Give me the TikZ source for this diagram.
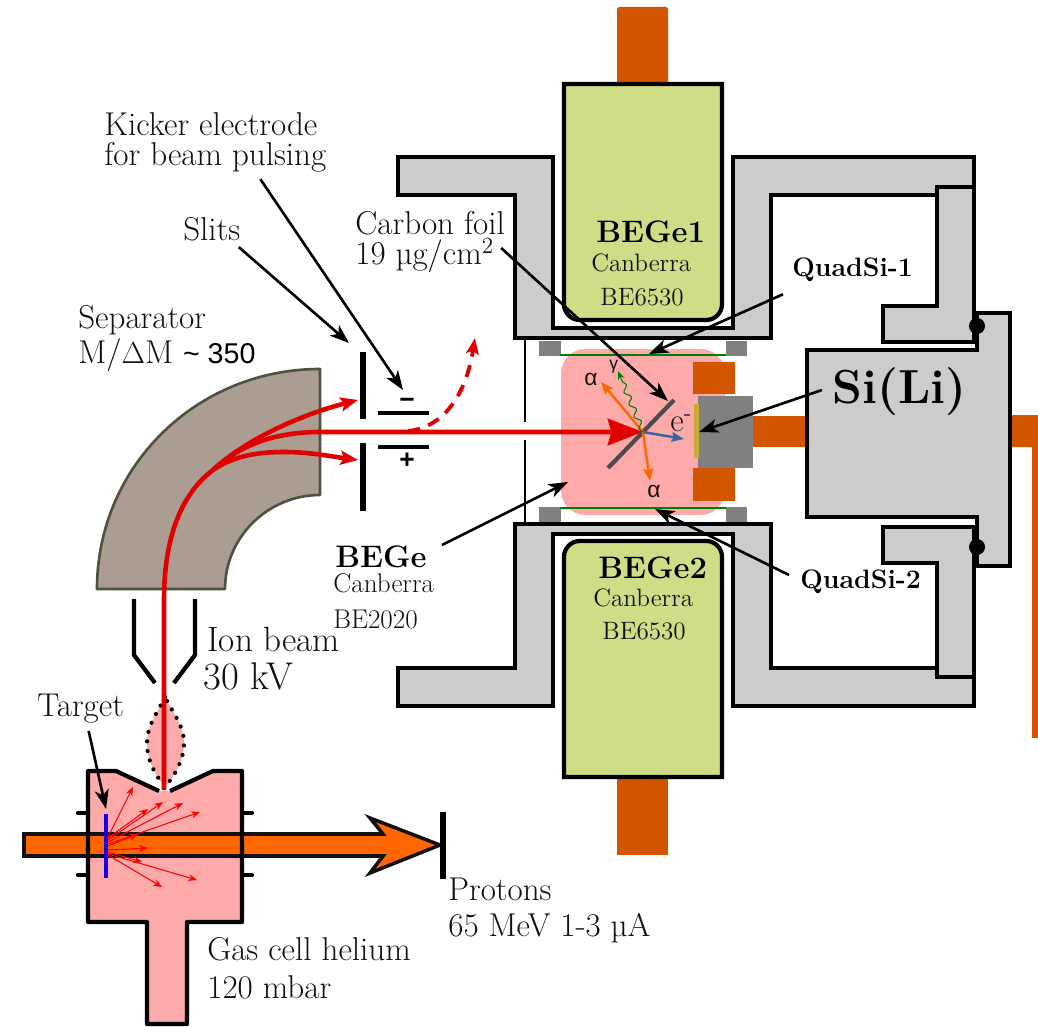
\documentclass[tikz,border=0pt]{standalone}
\usepackage{fontspec}
\usepackage{amsmath,amssymb}
\newfontfamily\numsans{Liberation Sans}
\usepackage{tikz}
\usetikzlibrary{arrows.meta, calc, decorations.pathmorphing}

\definecolor{copper}{HTML}{D45500}
\definecolor{beamorange}{HTML}{FF6600}
\definecolor{shieldgray}{HTML}{CCCCCC}
\definecolor{crystal}{HTML}{CDDE87}
\definecolor{gaspink}{HTML}{FFAAAA}
\definecolor{magnet}{HTML}{AC9D93}
\definecolor{magnetedge}{HTML}{4F5240}
\definecolor{beamred}{HTML}{E00000}
\definecolor{inktext}{HTML}{111111}
\definecolor{foilgold}{HTML}{C8AB37}
\definecolor{decayblue}{HTML}{3465A4}

\begin{document}
\begin{tikzpicture}[
  x=0.02cm, y=-0.02cm,
  >=Stealth,
  wall/.style={draw=black, line width=2.4pt, miter limit=4},
  shield/.style={wall, fill=shieldgray},
  crystalbox/.style={wall, fill=crystal},
  plate/.style={draw=black, line width=3.2pt},
  leader/.style={draw=black, line width=1.5pt,
    -{Stealth[length=11pt,width=8pt,inset=3pt]}},
  ionbeam/.style={draw=beamred, line width=2.6pt},
  ionarrow/.style={ionbeam, -{Stealth[length=10pt,width=8pt,inset=2pt]}},
  recoil/.style={draw=red, line width=0.6pt, -{Stealth[length=5pt,width=4pt]}},
  decay/.style={line width=1.4pt, -{Stealth[length=7pt,width=5.5pt,inset=1pt]}},
  lbl/.style={anchor=west, inner sep=0pt, text=inktext, align=left,
    font=\fontsize{18.8}{17}\selectfont},
  lblsmall/.style={lbl, font=\fontsize{14.3}{15}\selectfont},
  lblbold/.style={lbl, font=\fontsize{17.7}{19}\selectfont\bfseries, text=black},
  lblquad/.style={lbl, font=\fontsize{15.2}{15}\selectfont\bfseries, text=black},
  lblgreek/.style={lbl, font=\numsans\fontsize{13}{15}\selectfont},
  kicksign/.style={inner sep=0pt, font=\numsans\bfseries\fontsize{15}{15}\selectfont},
]
\useasboundingbox (0,0) rectangle (1038,1027);

%%% Copper cold fingers
\fill[copper, rounded corners=1pt] (617,7) rectangle (668,90);
\fill[copper] (617,770) rectangle (668,855);
\fill[copper] (752,416) rectangle (820,447);
\fill[copper] (1000,415) -- (1038,415) -- (1038,738) -- (1032,738)
  -- (1032,447) -- (1000,447) -- cycle;

%%% Shields, top and bottom
\draw[shield] (398,157) -- (553,157) -- (553,328) -- (733,328) -- (733,157)
  -- (974,157) -- (974,187) -- (937,187) -- (937,195) -- (771,195)
  -- (771,338) -- (515,338) -- (515,195) -- (398,195) -- cycle;
\draw[shield] (398,668) -- (515,668) -- (515,524) -- (771,524) -- (771,668)
  -- (937,668) -- (937,677) -- (974,677) -- (974,706) -- (733,706)
  -- (733,534) -- (553,534) -- (553,706) -- (398,706) -- cycle;

%%% Side pieces and Si(Li) cryostat
\draw[shield] (883,306) -- (937,306) -- (937,187) -- (974,187) -- (974,342)
  -- (883,342) -- cycle;
\draw[shield] (883,527) -- (974,527) -- (974,677) -- (937,677) -- (937,563)
  -- (883,563) -- cycle;
\draw[shield] (807,350) -- (977,350) -- (977,313) -- (1010,313) -- (1010,566)
  -- (977,566) -- (977,517) -- (807,517) -- cycle;
\fill (977,326) circle[radius=8];
\fill (977,547) circle[radius=8];

%%% BEGe crystals
\draw[crystalbox] (564,84) -- (722,84) [rounded corners=9pt] -- (722,320)
  -- (564,320) [sharp corners] -- cycle;
\draw[crystalbox] (564,777) -- (722,777) [rounded corners=9pt] -- (722,541)
  -- (564,541) [sharp corners] -- cycle;

%%% Implantation chamber
\draw[black, line width=0.9pt] (525,340) -- (525,422);
\draw[black, line width=0.9pt] (525,440) -- (525,522);
\fill[gaspink, rounded corners=14pt] (561,349) rectangle (725,515);
\fill[gray] (539,341) rectangle (561,356);
\fill[gray] (726,341) rectangle (747,356);
\fill[gray] (539,507) rectangle (561,522);
\fill[gray] (726,507) rectangle (747,522);
\draw[green!50!black, line width=1.2pt] (560,355) -- (726,355);
\draw[green!50!black, line width=1.2pt] (560,508) -- (726,508);
\fill[copper] (693,362) rectangle (735,394);
\fill[copper] (693,468) rectangle (735,501);
\fill[gray] (698,396) rectangle (753,468);
\fill[foilgold] (694,404) rectangle (699,458);

%%% Magnet
\draw[magnetedge, fill=magnet, line width=1.5pt, line join=round]
  (97,589) .. controls (97,466) and (197,369) .. (320,369) -- (320,495)
  .. controls (268,495) and (225,537) .. (225,589) -- cycle;

%%% Funnel, slits, kicker
\draw[plate, line width=2.4pt] (134,599) -- (134,655) -- (155,683);
\draw[plate, line width=2.4pt] (195,599) -- (195,655) -- (174,683);
\draw[plate] (363,352) -- (363,419);
\draw[plate] (363,443) -- (363,511);
\draw[plate, line width=2.4pt] (378,413) -- (429,413);
\draw[plate, line width=2.4pt] (378,447) -- (429,447);
\node[kicksign] (kickminus) at (407,403) {−};
\node[kicksign] (kickplus) at (407,461) {+};

%%% Gas cell
\fill[gaspink] (88,771) -- (116,771) -- (159,791) -- (170,791) -- (213,771)
  -- (242,771) -- (242,922) -- (187,922) -- (187,1024) -- (147,1024)
  -- (147,922) -- (88,922) -- cycle;
\draw[draw=inktext, fill=beamorange, line width=2pt]
  (24,834) -- (383,834) -- (370,818) -- (440,845) -- (370,873) -- (383,856)
  -- (24,856) -- cycle;
\draw[wall, line join=round] (159,791) -- (116,771) -- (88,771) -- (88,922)
  -- (147,922) -- (147,1024) -- (187,1024) -- (187,922) -- (242,922)
  -- (242,771) -- (213,771) -- (170,791);
\foreach \ys in {813,875} {
  \draw[wall, line cap=round] (78,\ys) -- (88,\ys);
  \draw[wall, line cap=round] (242,\ys) -- (252,\ys);
}
\draw[plate] (443,812) -- (443,879);
\draw[blue!80!violet, line width=2.8pt] (106,814) -- (106,878);

%%% Recoils out of the target
\foreach \ya/\xb/\yb in {837/133/787, 838/148/809, 840/163/802, 842/183/803,
  844/200/812, 846/138/834, 850/148/848, 852/142/862, 854/197/880, 855/162/887} {
  \draw[recoil] (108,\ya) -- (\xb,\yb);
}

%%% Ion extraction lens
\draw[fill=gaspink, line width=2.4pt, line cap=round, dash pattern=on 0pt off 5.5pt]
  (165,697) .. controls (158,712) and (147,725) .. (147,743)
  .. controls (147,760) and (155,775) .. (165,787)
  .. controls (175,775) and (184,760) .. (184,743)
  .. controls (184,725) and (172,712) .. (165,697);

%%% Ion beam through separator
\draw[ionbeam] (164,790) -- (164,600) .. controls (164,540) and (180,495) .. (213,470);
\draw[ionarrow] (213,470) .. controls (245,440) and (300,415) .. (358,400);
\draw[ionarrow] (213,470) .. controls (235,455) and (260,452) .. (285,452)
  .. controls (310,452) and (335,457) .. (358,460);
\draw[ionbeam, -{Stealth[length=20pt,width=15pt,inset=2pt]}]
  (213,470) .. controls (240,445) and (275,432) .. (320,432) -- (643,432);
\draw[ionbeam, line width=2.2pt, dash pattern=on 7pt off 5pt,
  -{Stealth[length=9pt,width=7pt,inset=1.5pt]}]
  (408,431) .. controls (440,428) and (465,400) .. (475,338);

%%% Foil and decays
\draw[black!70, line width=2.4pt] (608,468) -- (674,400);
\draw[decay, beamorange] (643,432) -- (601,382);
\draw[decay, beamorange] (643,432) -- (650,481);
\draw[decay, decayblue] (643,432) -- (684,439);
\draw[green!50!black, line width=0.6pt, -{Stealth[length=5pt,width=4pt]},
  decorate, decoration={snake, amplitude=1.5pt, segment length=7.5pt, post length=5pt}]
  (643,432) -- (618,371);
\node[lblgreek] (alphaup) at (584,379) {α};
\node[lblgreek] (alphadown) at (647,491) {α};
\node[lblgreek, font=\numsans\fontsize{10}{12}\selectfont] (gammaline) at (609,367) {γ};
\node[lbl] (elec) at (670,423) {e\textsuperscript{-}};

%%% Labels
\node[lbl] (LKicker) at (104,142) {Kicker electrode\\for beam pulsing};
\node[lbl] (LSlits) at (183,229) {Slits};
\node[lbl] (LSep) at (78,320) {Separator};
\node[lbl] (LRes) at (78,355) {M/$\Delta$M {\numsans\fontsize{16.3}{17}\selectfont\color{black} \textasciitilde{} 350}};
\node[lbl] (LFoil) at (355,242) {Carbon foil\\19 µg/cm\textsuperscript{2}};
\node[lblbold] (LBE1) at (596,232) {BEGe1};
\node[lblsmall] (LCa1) at (591,263) {Canberra};
\node[lblsmall] (LMo1) at (600,297) {BE6530};
\node[lblbold] (LBE2) at (598,568) {BEGe2};
\node[lblsmall] (LCa2) at (593,598) {Canberra};
\node[lblsmall] (LMo2) at (602,631) {BE6530};
\node[lblbold] (LBE) at (335,557) {BEGe};
\node[lblsmall, font=\fontsize{15.4}{16}\selectfont] (LCa) at (333,583) {Canberra};
\node[lblsmall, font=\fontsize{15.4}{16}\selectfont] (LMo) at (333,619) {BE2020};
\node[lblquad] (LQ1) at (792,270) {QuadSi-1};
\node[lblquad] (LQ2) at (800,582) {QuadSi-2};
\node[lbl, font=\fontsize{27.2}{29}\selectfont\bfseries, text=black] (LSiLi) at (832,392) {Si(Li)};
\node[lbl, font=\fontsize{20}{22}\selectfont] (LIon) at (207,639) {Ion beam};
\node[lbl, font=\fontsize{22}{24}\selectfont] (LVolt) at (203,676) {30 kV};
\node[lbl] (LTarget) at (37,709) {Target};
\node[lbl] (LProt) at (448,889) {Protons};
\node[lbl] (LProtE) at (448,928) {65 MeV 1-3 µA};
\node[lbl] (LGas) at (207,949) {Gas cell helium};
\node[lbl] (LPres) at (207,987) {120 mbar};

%%% Leader ends
\coordinate (tKick) at (403,390);
\coordinate (tSlit) at (349,343);
\coordinate (tFoil) at (668,401);
\coordinate (tQ1) at (649,354);
\coordinate (tSi) at (699,432);
\coordinate (tBE) at (568,482);
\coordinate (tQ2) at (655,509);
\coordinate (tTarget) at (106,809);

\draw[leader] ($(LKicker.south)+(45,7)$) -- (tKick);
\draw[leader] ($(LSlits.south)+(27,6)$) -- (tSlit);
\draw[leader] ($(LFoil.east)+(-4,6)$) -- (tFoil);
\draw[leader] ($(LQ1.south west)+(-9,12)$) -- (tQ1);
\draw[leader] (LSiLi.west) ++(-10,-2) -- (tSi);
\draw[leader] ($(LBE.east)+(15,-12)$) -- (tBE);
\draw[leader] ($(LQ2.west)+(-11,-7)$) -- (tQ2);
\draw[leader] ($(LTarget.south)+(8,7)$) -- (tTarget);

\end{tikzpicture}
\end{document}
